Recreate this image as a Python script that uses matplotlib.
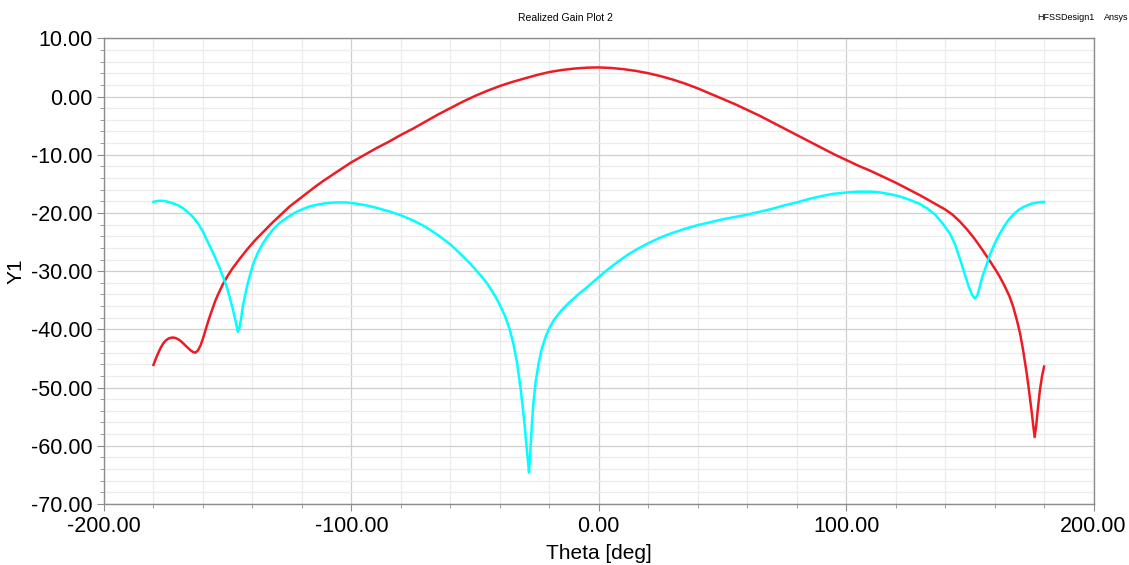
import matplotlib
matplotlib.use("Agg")
import matplotlib.pyplot as plt
from matplotlib.ticker import MultipleLocator, FormatStrFormatter

plt.rcParams['font.family'] = ['Liberation Sans', 'DejaVu Sans']

# realized gain, co-pol (red) and cross-pol (cyan), dB vs theta in degrees
theta_red = [-180, -179, -178, -177, -176, -175, -174, -173, -172, -171, -170, -169, -168,
             -167, -166, -165, -164, -163, -162, -161, -160, -159, -158, -157, -156, -155,
             -154, -152, -150, -148, -145, -142, -138.5, -135, -132, -128, -125, -121,
             -118, -114, -111, -105, -100, -95, -90, -85, -80, -75, -70, -65, -60, -55,
             -50, -45, -40, -35, -30, -25, -20, -15, -10, -5, 0, 5, 10, 15, 20, 25, 30,
             35, 40, 45, 50, 55, 60, 65, 70, 75, 80, 85, 90, 95, 100, 105, 110, 115, 120,
             125, 130, 135, 140, 143, 146, 149, 152, 155, 158, 160, 162, 164, 166, 167.5,
             169, 170.3, 171.5, 173, 174, 175, 175.7, 176.2, 176.8, 177.5, 178.3, 179.2, 180]
gain_red = [-46.1, -45.0, -44.0, -43.1, -42.4, -41.9, -41.6, -41.45, -41.4, -41.5, -41.7,
            -42.0, -42.4, -42.8, -43.2, -43.6, -43.9, -44.0, -43.6, -42.8, -41.6, -40.2,
            -38.8, -37.5, -36.3, -35.1, -34.1, -32.3, -30.8, -29.5, -27.8, -26.2, -24.5,
            -23.0, -21.7, -20.1, -18.9, -17.6, -16.6, -15.3, -14.4, -12.7, -11.3, -10.1,
            -8.9, -7.8, -6.6, -5.5, -4.3, -3.1, -2.0, -0.9, 0.1, 1.0, 1.8, 2.5, 3.1, 3.7,
            4.2, 4.55, 4.8, 4.95, 5.0, 4.9, 4.7, 4.4, 4.0, 3.5, 2.9, 2.2, 1.4, 0.5, -0.4,
            -1.3, -2.3, -3.3, -4.4, -5.5, -6.6, -7.7, -8.8, -9.9, -10.9, -11.9, -12.8,
            -13.8, -14.8, -15.9, -17.0, -18.2, -19.4, -20.3, -21.5, -22.9, -24.5, -26.3,
            -28.2, -29.5, -30.9, -32.5, -34.3, -36.1, -38.4, -40.7, -43.5, -47.6, -50.8,
            -54.2, -56.8, -58.5, -56.6, -53.6, -50.5, -48.0, -46.4]

theta_cyan = [-180, -178.5, -177, -175.5, -174, -172, -170, -168, -166, -164, -162, -160,
              -158.7, -157, -155, -153.3, -151.5, -150, -149, -148, -147, -146.3, -145.9,
              -145.3, -144.6, -143.9, -143, -142, -141, -139.8, -138, -136, -134, -131.8,
              -129, -126, -123, -120, -117, -114, -110, -106, -102, -98, -94, -90, -85,
              -80, -75, -70, -65, -60, -56, -52, -48, -45, -42, -40, -38, -36, -34.5, -33,
              -31.5, -30.3, -29.3, -28.6, -28.2, -27.8, -27.2, -26.5, -25.5, -24.3, -23,
              -21.5, -20, -18, -15, -12, -8, -4, 0, 4, 8, 12, 16, 20, 25, 30, 35, 40, 45,
              50, 55, 60, 65, 70, 75, 80, 85, 90, 95, 100, 105, 110, 114, 118, 122, 126,
              130, 133, 136, 139, 142, 144, 146, 148, 149.5, 150.8, 152, 153, 154, 155,
              156.5, 158, 160, 162, 164, 166, 168, 170, 172, 175, 178, 180]
gain_cyan = [-18.1, -17.95, -17.9, -17.95, -18.1, -18.35, -18.7, -19.2, -19.9, -20.7,
             -21.8, -23.2, -24.4, -25.9, -27.7, -29.4, -31.4, -33.2, -34.8, -36.4, -38.2,
             -39.6, -40.4, -39.8, -38.2, -36.1, -34.2, -32.3, -30.7, -28.9, -27.0, -25.4,
             -24.1, -22.9, -21.7, -20.8, -20.0, -19.4, -18.9, -18.6, -18.3, -18.2, -18.2,
             -18.4, -18.7, -19.1, -19.7, -20.4, -21.3, -22.4, -23.8, -25.4, -27.0, -28.7,
             -30.6, -32.2, -34.2, -35.8, -37.6, -40.0, -42.5, -45.8, -50.5, -55.0, -59.5,
             -62.8, -64.6, -62.0, -57.5, -53.0, -49.0, -45.8, -43.3, -41.3, -39.8, -38.3,
             -36.7, -35.4, -33.9, -32.5, -31.0, -29.6, -28.3, -27.1, -26.1, -25.2, -24.2,
             -23.4, -22.7, -22.1, -21.6, -21.1, -20.7, -20.3, -19.8, -19.3, -18.7, -18.2,
             -17.6, -17.1, -16.7, -16.5, -16.35, -16.35, -16.5, -16.8, -17.2, -17.8,
             -18.5, -19.3, -20.3, -21.8, -23.6, -25.4, -27.9, -30.6, -32.6, -34.0, -34.7,
             -34.2, -32.7, -31.0, -29.2, -27.3, -25.3, -23.6, -22.2, -21.0, -20.1, -19.4,
             -18.9, -18.4, -18.15, -18.1]

fig = plt.figure(figsize=(11.29, 5.65), dpi=100)
ax = fig.add_axes([0.0921, 0.108, 0.8765, 0.8242])

ax.plot(theta_red, gain_red, color='#ed1c24', lw=1.8)
ax.plot(theta_cyan, gain_cyan, color='#00ffff', lw=1.8)

ax.set_xlim(-200, 200)
ax.set_ylim(-70, 10)
ax.xaxis.set_major_locator(MultipleLocator(100))
ax.xaxis.set_minor_locator(MultipleLocator(20))
ax.yaxis.set_major_locator(MultipleLocator(10))
ax.yaxis.set_minor_locator(MultipleLocator(2))
ax.xaxis.set_major_formatter(FormatStrFormatter('%.2f'))
ax.yaxis.set_major_formatter(FormatStrFormatter('%.2f'))

ax.grid(which='major', color='#cfcfcf', lw=0.9)
ax.grid(which='minor', color='#ececec', lw=0.9)
ax.set_axisbelow(True)

for s in ax.spines.values():
    s.set_color('#8c8c8c')
    s.set_linewidth(1.0)

ax.tick_params(which='both', direction='out', colors='#8c8c8c', labelcolor='black',
               top=False, right=False)
ax.tick_params(which='major', length=5, labelsize=15.5, pad=3)
ax.tick_params(axis='x', which='major', pad=4)
ax.tick_params(which='minor', length=3)

ax.set_xlabel('Theta [deg]', fontsize=15, labelpad=5)
ax.set_ylabel('Y1', fontsize=15, labelpad=4)

fig.text(565 / 1129, 1 - 18 / 565, 'Realized Gain Plot 2', fontsize=7.5,
         ha='center', va='center')
fig.text(1066 / 1129, 1 - 18 / 565, 'HFSSDesign1', fontsize=6.5, ha='center', va='center')
fig.text(1104 / 1129, 1 - 17 / 565, 'Ansys', fontsize=6.5, ha='left', va='center')

fig.savefig('out.png', dpi=100, facecolor='white')
